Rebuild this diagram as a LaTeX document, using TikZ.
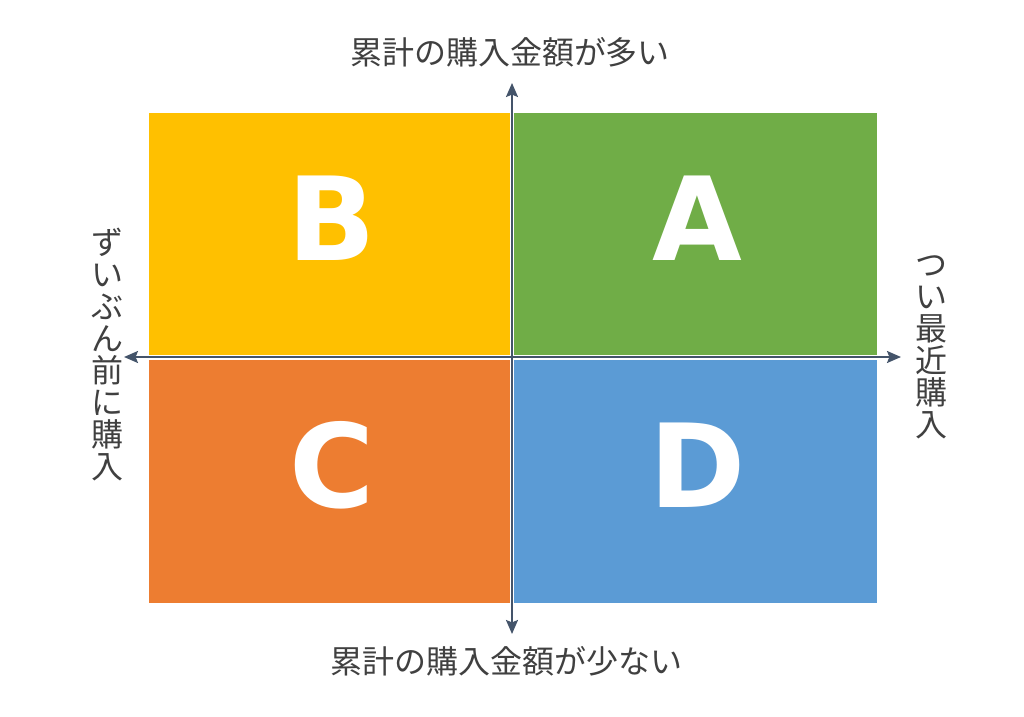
\documentclass[tikz,border=0pt]{standalone}
\usepackage{fontspec}
\setmainfont{Noto Sans}
\newfontfamily\jpfont{Noto Sans CJK JP}
\newfontfamily\letterfont{DejaVu Sans}
\usetikzlibrary{arrows.meta}
\definecolor{quadB}{HTML}{FFC000}
\definecolor{quadA}{HTML}{70AD47}
\definecolor{quadC}{HTML}{ED7D31}
\definecolor{quadD}{HTML}{5B9BD5}
\definecolor{axisgray}{HTML}{44546A}
\definecolor{labelgray}{HTML}{404040}
\begin{document}
\begin{tikzpicture}[x=0.5pt,y=-0.5pt,>={Stealth[length=7pt,width=6pt,inset=1.2pt]},line join=round,
	letter/.style={text=white,font=\letterfont\bfseries\fontsize{58pt}{58pt}\selectfont},
	axislabel/.style={text=labelgray,font=\jpfont\fontsize{16pt}{16pt}\selectfont,align=center,inner sep=0pt}]
	\useasboundingbox (0,0) rectangle (1024,717);
	\def\xmid{512} \def\ymid{357}
	% quadrants
	\fill[quadB] (149,113) rectangle (510,355);
	\fill[quadA] (514,113) rectangle (877,355);
	\fill[quadC] (149,360) rectangle (510,603);
	\fill[quadD] (514,360) rectangle (877,603);
	\node[letter] (B) at (332,218) {B};
	\node[letter] (A) at (697,218) {A};
	\node[letter] (C) at (332,465) {C};
	\node[letter] (D) at (698,465) {D};
	% axes
	\coordinate (top) at (\xmid,83);
	\coordinate (bottom) at (\xmid,634);
	\coordinate (left) at (124,\ymid);
	\coordinate (right) at (901,\ymid);
	\draw[axisgray,line width=1pt,<->] (bottom)--(top);
	\draw[axisgray,line width=1pt,<->] (left)--(right);
	% labels
	\node[axislabel] (more) at (510,52) {累計の購入金額が多い};
	\node[axislabel] (less) at (506,661) {累計の購入金額が少ない};
	\node[axislabel] (past) at (107,355) {ず\\い\\ぶ\\ん\\前\\に\\購\\入};
	\node[axislabel] (recent) at (931,347) {つ\\い\\最\\近\\購\\入};
\end{tikzpicture}
\end{document}
